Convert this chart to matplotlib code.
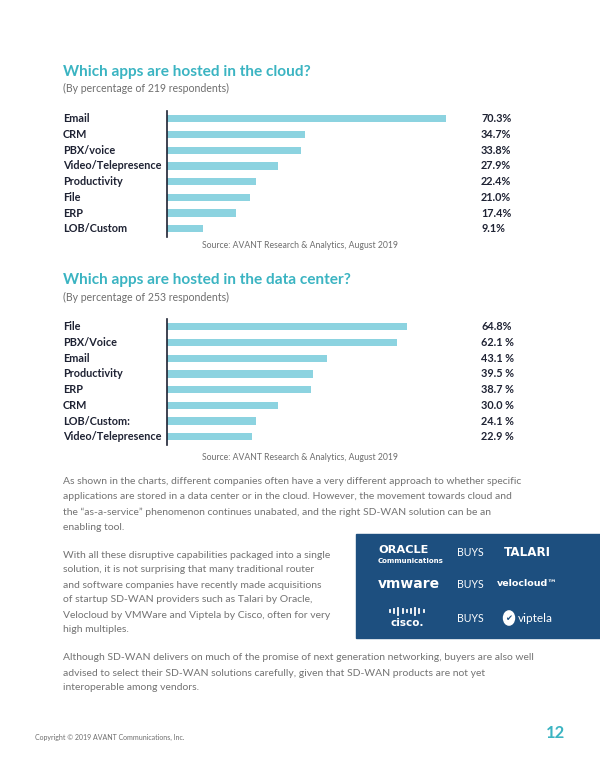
import matplotlib
matplotlib.use("Agg")
import matplotlib.pyplot as plt
from matplotlib.transforms import blended_transform_factory
from matplotlib.lines import Line2D
from matplotlib.patches import Rectangle, Circle

# ---------------- data ----------------
cloud_categories = ["Email", "CRM", "PBX/voice", "Video/Telepresence",
                    "Productivity", "File", "ERP", "LOB/Custom"]
cloud_values = [70.3, 34.7, 33.8, 27.9, 22.4, 21.0, 17.4, 9.1]
cloud_labels = ["70.3%", "34.7%", "33.8%", "27.9%", "22.4%", "21.0%", "17.4%", "9.1%"]

dc_categories = ["File", "PBX/Voice", "Email", "Productivity", "ERP",
                 "CRM", "LOB/Custom:", "Video/Telepresence"]
dc_values = [64.8, 62.1, 43.1, 39.5, 38.7, 30.0, 24.1, 22.9]
dc_labels = ["64.8%", "62.1 %", "43.1 %", "39.5 %", "38.7 %", "30.0 %", "24.1 %", "22.9 %"]

# ---------------- style ----------------
W, H = 600, 776
TEAL = "#3BB4C2"
BAR = "#8CD3E0"
DARK = "#1E2233"
GRAY = "#6E6E6E"
NAVY = "#1D4F7F"
FONT = ["Lato", "DejaVu Sans"]
plt.rcParams["font.family"] = FONT

fig = plt.figure(figsize=(W / 100, H / 100), dpi=100)
fig.patch.set_facecolor("white")


def fx(x):
    return x / W


def fy(y):
    return 1 - y / H


def ftext(x, y, s, **kw):
    kw.setdefault("va", "center")
    fig.text(fx(x), fy(y), s, **kw)


def bar_chart(top_px, cats, vals, labels, xmax):
    row = 15.7
    n = len(cats)
    ax = fig.add_axes([fx(167), fy(top_px + n * row), 300 / W, n * row / H])
    ax.barh(range(n), vals, height=0.46, color=BAR, left=0)
    ax.set_xlim(0, xmax)
    ax.set_ylim(n - 0.5, -0.5)
    for s in ["top", "right", "bottom"]:
        ax.spines[s].set_visible(False)
    ax.spines["left"].set_color(DARK)
    ax.spines["left"].set_linewidth(1.2)
    ax.set_xticks([])
    ax.set_yticks([])
    ax.patch.set_alpha(0)
    tr = blended_transform_factory(fig.transFigure, ax.transData)
    for i, (c, lab) in enumerate(zip(cats, labels)):
        ax.text(fx(63), i, c, transform=tr, ha="left", va="center",
                fontsize=7.8, fontweight="bold", color=DARK)
        ax.text(fx(481), i, lab, transform=tr, ha="left", va="center",
                fontsize=7.8, fontweight="bold", color=DARK)
    return ax


# ---------------- chart 1 ----------------
ftext(63, 72, "Which apps are hosted in the cloud?", fontsize=11.1,
      fontweight="bold", color=TEAL)
ftext(63, 88, "(By percentage of 219 respondents)", fontsize=7.6, color=GRAY)
bar_chart(111, cloud_categories, cloud_values, cloud_labels, 75.5)
ftext(300, 246, "Source: AVANT Research & Analytics, August 2019",
      fontsize=6.2, color=GRAY, ha="center")

# ---------------- chart 2 ----------------
ftext(63, 280, "Which apps are hosted in the data center?", fontsize=11.1,
      fontweight="bold", color=TEAL)
ftext(63, 297, "(By percentage of 253 respondents)", fontsize=7.6, color=GRAY)
bar_chart(319, dc_categories, dc_values, dc_labels, 80.9)
ftext(300, 458, "Source: AVANT Research & Analytics, August 2019",
      fontsize=6.2, color=GRAY, ha="center")

# ---------------- body text ----------------
para1 = [
    "As shown in the charts, different companies often have a very different approach to whether specific",
    "applications are stored in a data center or in the cloud. However, the movement towards cloud and",
    "the \u201cas-a-service\u201d phenomenon continues unabated, and the right SD-WAN solution can be an",
    "enabling tool.",
]
para2 = [
    "With all these disruptive capabilities packaged into a single",
    "solution, it is not surprising that many traditional router",
    "and software companies have recently made acquisitions",
    "of startup SD-WAN providers such as Talari by Oracle,",
    "Velocloud by VMWare and Viptela by Cisco, often for very",
    "high multiples.",
]
para3 = [
    "Although SD-WAN delivers on much of the promise of next generation networking, buyers are also well",
    "advised to select their SD-WAN solutions carefully, given that SD-WAN products are not yet",
    "interoperable among vendors.",
]
for start, lines in [(482, para1), (555, para2), (658, para3)]:
    for k, line in enumerate(lines):
        ftext(63, start + k * 15, line, fontsize=7.45, color="#737373")

# ---------------- acquisitions box ----------------
fig.add_artist(Rectangle((fx(356), fy(638)), (W - 356) / W, (638 - 534) / H,
                         transform=fig.transFigure, color=NAVY, zorder=0))
WH = "white"
ftext(378, 550, "ORACLE", fontsize=8.2, color=WH, fontweight="bold",
      family=["DejaVu Sans"])
ftext(378, 561, "Communications", fontsize=5.0, color=WH, fontweight="bold",
      family=["DejaVu Sans"])
ftext(378, 584, "vmware", fontsize=10, color=WH, fontweight="bold",
      family=["DejaVu Sans"])
ftext(407, 623, "cisco.", fontsize=7.5, color=WH, fontweight="bold",
      ha="center", family=["DejaVu Sans"])
bar_h = [2, 4, 7, 4, 2, 4, 7, 4, 2]
for k, h in enumerate(bar_h):
    x = 390 + k * 4.2
    fig.add_artist(Line2D([fx(x), fx(x)], [fy(611 + h / 2), fy(611 - h / 2)],
                          transform=fig.transFigure, color=WH, lw=1.3))
for y in (553, 584, 618):
    ftext(457, y, "BUYS", fontsize=7.6, color=WH)
ftext(504, 553, "TALARI", fontsize=8.6, color=WH, fontweight="bold",
      family=["DejaVu Sans"])
ftext(497, 584, "velocloud\u2122", fontsize=6.8, color=WH, fontweight="bold",
      family=["DejaVu Sans"])
fig.add_artist(Circle((fx(509), fy(618)), 5.5 / W, transform=fig.transFigure,
                      color=WH))
ftext(509, 618, "\u2714", fontsize=6, color=NAVY, ha="center",
      family=["DejaVu Sans"])
ftext(518, 618, "viptela", fontsize=8.5, color=WH)

# ---------------- footer ----------------
ftext(35, 737, "Copyright \u00a9 2019 AVANT Communications, Inc.",
      fontsize=5, color=GRAY)
ftext(565, 733, "12", fontsize=12, color=TEAL, fontweight="bold", ha="right")

fig.savefig("out.png", dpi=100, facecolor="white")
